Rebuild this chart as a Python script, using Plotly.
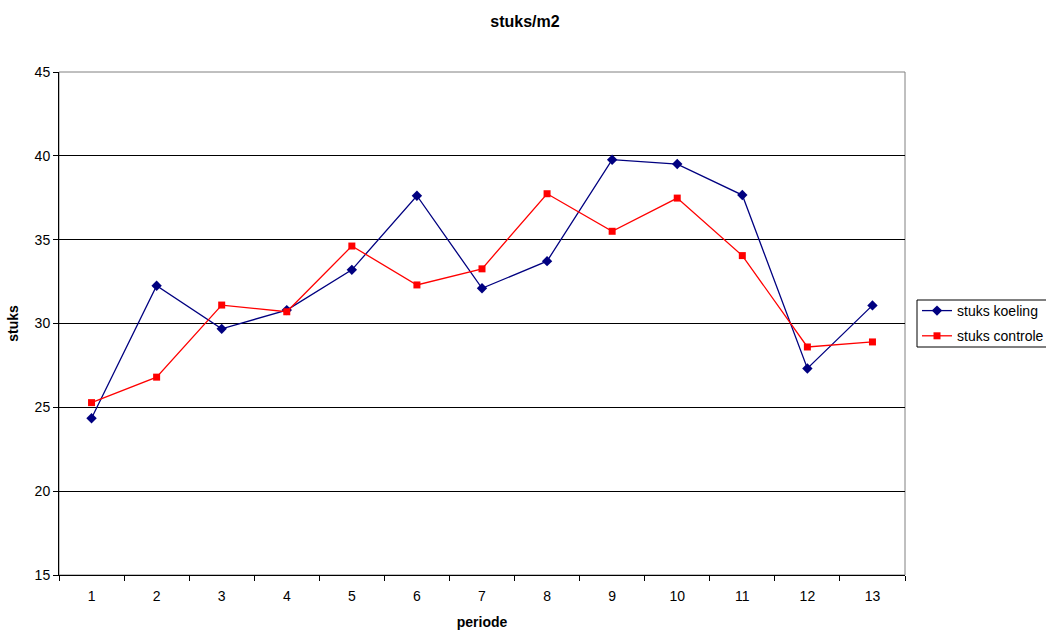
import plotly.graph_objects as go

# Periods and measured counts per m2
periode = [str(i) for i in range(1, 14)]
stuks_koeling = [24.35, 32.25, 29.68, 30.8, 33.2, 37.62, 32.1, 33.72, 39.77, 39.51, 37.66, 27.32, 31.08]
stuks_controle = [25.28, 26.8, 31.1, 30.7, 34.62, 32.3, 33.26, 37.74, 35.5, 37.48, 34.05, 28.6, 28.9]

FONT = "Liberation Sans, Arial, sans-serif"
W, H = 1046, 631
L, R, T, B = 59, 141, 72, 56


def px_to_paper(px, py):
    """Convert page pixels to paper coordinates of the plot area."""
    return (px - L) / (W - L - R), (H - B - py) / (H - T - B)


fig = go.Figure()
fig.add_trace(go.Scatter(
    x=periode, y=stuks_koeling, name="stuks koeling", mode="lines+markers",
    legendgroup="a",
    line=dict(color="#000080", width=1.3),
    marker=dict(symbol="diamond", size=8, color="#000080"),
))
fig.add_trace(go.Scatter(
    x=periode, y=stuks_controle, name="stuks controle", mode="lines+markers",
    legendgroup="b",
    line=dict(color="#ff0000", width=1.3),
    marker=dict(symbol="square", size=7, color="#ff0000"),
))

# Plot-area frame (grey), drawn beneath the black axis lines
fig.add_shape(type="rect", xref="paper", yref="paper", x0=0, y0=0, x1=1, y1=1,
              line=dict(color="#808080", width=1), layer="below")

# Legend frame
lx0, ly0 = px_to_paper(917, 347)
lx1, ly1 = px_to_paper(1070, 300)
fig.add_shape(type="rect", xref="paper", yref="paper", x0=lx0, y0=ly0, x1=lx1, y1=ly1,
              line=dict(color="black", width=1), fillcolor="white", layer="below")

fig.update_layout(
    width=W, height=H,
    margin=dict(l=L, r=R, t=T, b=B, autoexpand=False),
    paper_bgcolor="white", plot_bgcolor="white",
    font=dict(family=FONT, size=14, color="black"),
    title=dict(text="<b>stuks/m2</b>", x=525 / W, xref="container", y=1 - 21 / H,
               yref="container", yanchor="middle", xanchor="center", font=dict(size=16)),
    showlegend=True,
    legend=dict(xref="container", yref="container", x=917 / W, y=1 - 295 / H,
                xanchor="left", yanchor="top", borderwidth=0,
                bgcolor="rgba(0,0,0,0)", font=dict(size=14), tracegroupgap=4),
    xaxis=dict(
        type="category", range=[-0.5, 12.5], tickson="boundaries", automargin=False,
        ticks="outside", ticklen=5, tickcolor="black", ticklabelstandoff=8,
        showline=True, linecolor="black", linewidth=1, showgrid=False,
        zeroline=False, tickfont=dict(size=14),
        title=dict(text="<b>periode</b>", font=dict(size=14), standoff=14),
    ),
    yaxis=dict(
        range=[15, 45], dtick=5, ticks="outside", ticklen=5, tickcolor="black",
        automargin=False,
        showline=True, linecolor="black", linewidth=1,
        showgrid=True, gridcolor="black", gridwidth=1, zeroline=False,
        tickfont=dict(size=14),
        title=dict(text="<b>stuks</b>", font=dict(size=14), standoff=12),
    ),
)

fig.write_html("out.html")
